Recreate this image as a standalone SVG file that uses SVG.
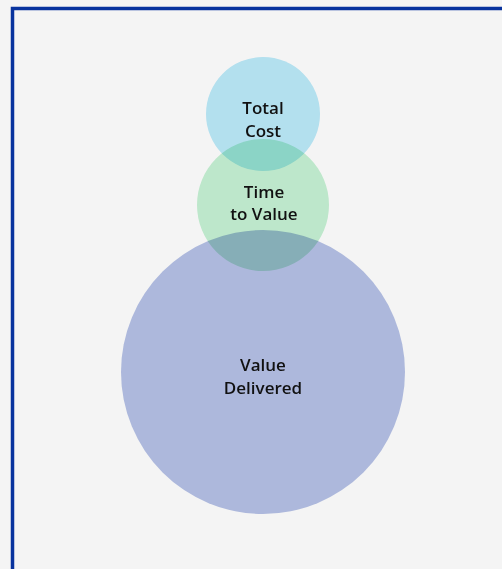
<svg xmlns="http://www.w3.org/2000/svg" width="502" height="569" viewBox="0 0 502 569">
<style>
.c{mix-blend-mode:multiply}
.lbl{font-family:"Open Sans","Liberation Sans",sans-serif;font-size:17px;font-weight:600;fill:#111;text-anchor:middle}
</style>
<rect x="0" y="0" width="502" height="569" fill="#f4f4f4"/>
<rect x="12.5" y="8.5" width="520" height="600" fill="none" stroke="#08339e" stroke-width="3.5"/>
<g id="total-cost">
<circle class="c" cx="263" cy="114" r="57" fill="#bbeaf9"/>
</g>
<g id="value-delivered">
<circle class="c" cx="263" cy="372" r="142" fill="#b5c1e6"/>
</g>
<g id="time-to-value">
<circle class="c" cx="263" cy="205" r="66" fill="#c6f2d4"/>
</g>
<g id="labels">
<text class="lbl" x="263" y="114">Total</text>
<text class="lbl" x="263" y="137">Cost</text>
<text class="lbl" x="264" y="198">Time</text>
<text class="lbl" x="264" y="220">to Value</text>
<text class="lbl" x="263" y="371">Value</text>
<text class="lbl" x="263" y="394">Delivered</text>
</g>
<g id="connectors"/>
</svg>
